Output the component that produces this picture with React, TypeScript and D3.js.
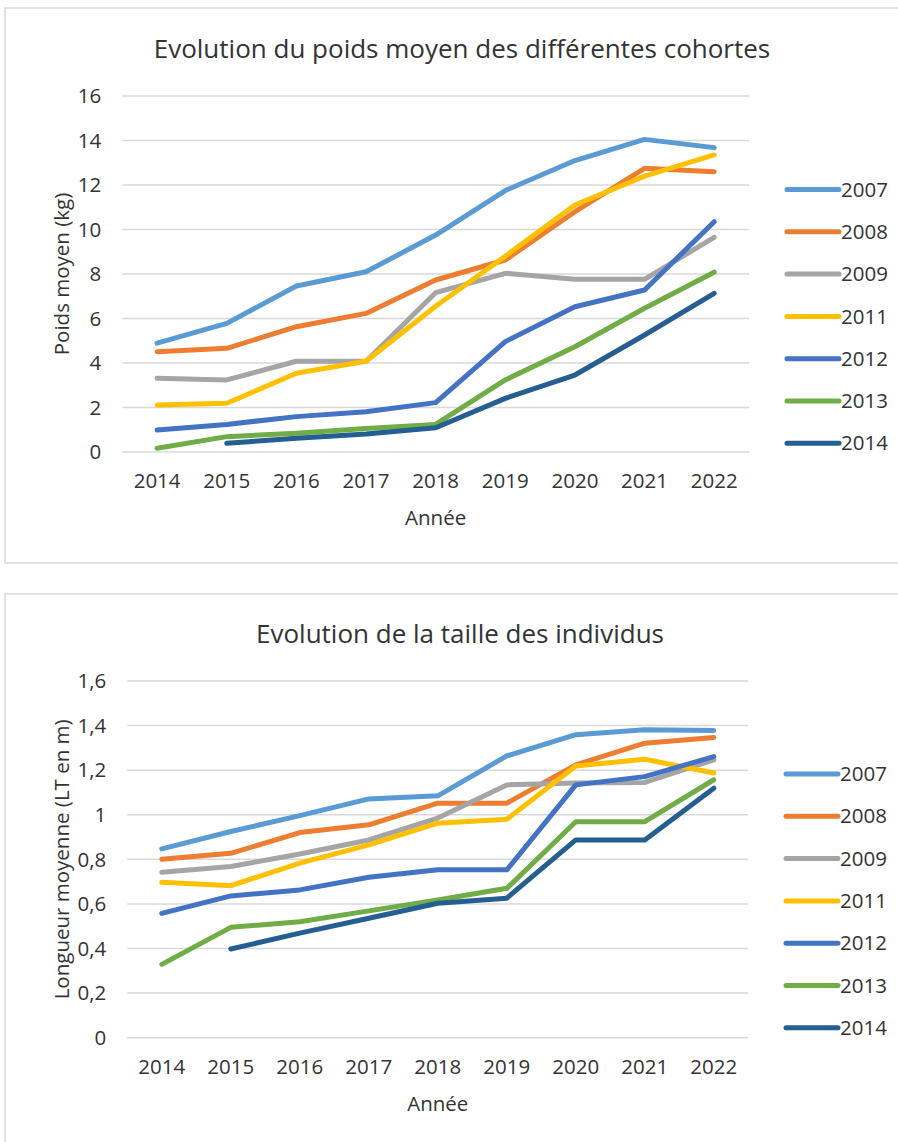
import React from "react";
import * as d3 from "d3";

// Cohort years (legend order) and their colours
const cohorts = ["2007", "2008", "2009", "2011", "2012", "2013", "2014"];
const cohortColors = ["#5B9BD5", "#ED7D31", "#A5A5A5", "#FFC000", "#4472C4", "#70AD47", "#255E91"];

// Survey years along the x axis
const years = ["2014", "2015", "2016", "2017", "2018", "2019", "2020", "2021", "2022"];

// Mean weight (kg) per cohort, one value per survey year
const weight2007 = [4.89, 5.78, 7.46, 8.1, 9.75, 11.75, 13.1, 14.05, 13.68];
const weight2008 = [4.51, 4.66, 5.63, 6.23, 7.73, 8.63, 10.8, 12.75, 12.6];
const weight2009 = [3.31, 3.24, 4.08, 4.08, 7.16, 8.03, 7.76, 7.76, 9.65];
const weight2011 = [2.11, 2.19, 3.54, 4.08, 6.55, 8.8, 11.1, 12.4, 13.35];
const weight2012 = [0.99, 1.24, 1.59, 1.81, 2.22, 4.96, 6.53, 7.28, 10.35];
const weight2013 = [0.17, 0.69, 0.84, 1.06, 1.24, 3.24, 4.73, 6.46, 8.08];
const weight2014 = [null, 0.39, 0.62, 0.81, 1.09, 2.41, 3.46, 5.26, 7.13];

// Mean total length (m) per cohort, one value per survey year
const length2007 = [0.847, 0.925, 0.996, 1.071, 1.085, 1.264, 1.359, 1.381, 1.378];
const length2008 = [0.8, 0.827, 0.92, 0.955, 1.052, 1.052, 1.224, 1.321, 1.347];
const length2009 = [0.742, 0.768, 0.824, 0.887, 0.985, 1.134, 1.142, 1.145, 1.246];
const length2011 = [0.697, 0.682, 0.783, 0.865, 0.962, 0.98, 1.219, 1.249, 1.187];
const length2012 = [0.558, 0.636, 0.663, 0.72, 0.753, 0.753, 1.134, 1.171, 1.261];
const length2013 = [0.329, 0.495, 0.52, 0.569, 0.618, 0.67, 0.969, 0.969, 1.157];
const length2014 = [null, 0.398, 0.469, 0.536, 0.603, 0.626, 0.887, 0.887, 1.119];

// Axis ticks
const weightTicks = [0, 2, 4, 6, 8, 10, 12, 14, 16];
const lengthTicks = [0, 0.2, 0.4, 0.6, 0.8, 1, 1.2, 1.4, 1.6];

const weightSeries = [weight2007, weight2008, weight2009, weight2011, weight2012, weight2013, weight2014];
const lengthSeries = [length2007, length2008, length2009, length2011, length2012, length2013, length2014];

const FONT = "'Open Sans', 'Liberation Sans', sans-serif";
const TEXT = "#333333";
const GRID = "#d9d9d9";
const LABEL_SIZE = 20.5;

type Box = {
  top: number;
  bottom: number;
  plotLeft: number;
  plotRight: number;
  plotTop: number;
  plotBottom: number;
  titleY: number;
  titleX: number;
  yTitleX: number;
  legendX: number;
  legendY: number;
};

function LineChart(props: {
  box: Box;
  title: string;
  yTitle: string;
  ticks: number[];
  domainMax: number;
  series: (number | null)[][];
  tickFormat: (v: number) => string;
}) {
  const { box, title, yTitle, ticks, domainMax, series, tickFormat } = props;
  const x = d3.scaleBand<string>().domain(years).range([box.plotLeft, box.plotRight]).padding(0);
  const y = d3.scaleLinear().domain([0, domainMax]).range([box.plotBottom, box.plotTop]);
  const cx = (yr: string) => (x(yr) as number) + x.bandwidth() / 2;

  const line = d3
    .line<number | null>()
    .defined((d) => d !== null)
    .x((_, i) => cx(years[i]))
    .y((d) => y(d as number));

  const plotMidX = (box.plotLeft + box.plotRight) / 2;
  const plotMidY = (box.plotTop + box.plotBottom) / 2;

  return (
    <g>
      <rect
        x={5}
        y={box.top}
        width={960}
        height={box.bottom - box.top}
        fill="#ffffff"
        stroke={GRID}
        strokeWidth={1.5}
      />
      <text x={box.titleX} y={box.titleY} textAnchor="middle" fontFamily={FONT} fontSize={26} fill={TEXT}>
        {title}
      </text>
      {ticks.map((t) => (
        <g key={t}>
          <line x1={box.plotLeft} x2={box.plotRight} y1={y(t)} y2={y(t)} stroke={GRID} strokeWidth={1.5} />
          <text
            x={box.plotLeft - 21}
            y={y(t)}
            dy="0.35em"
            textAnchor="end"
            fontFamily={FONT}
            fontSize={LABEL_SIZE}
            fill={TEXT}
          >
            {tickFormat(t)}
          </text>
        </g>
      ))}
      {years.map((yr) => (
        <text
          key={yr}
          x={cx(yr)}
          y={box.plotBottom + 36}
          textAnchor="middle"
          fontFamily={FONT}
          fontSize={LABEL_SIZE}
          fill={TEXT}
        >
          {yr}
        </text>
      ))}
      <text
        x={plotMidX}
        y={box.plotBottom + 73}
        textAnchor="middle"
        fontFamily={FONT}
        fontSize={LABEL_SIZE}
        fill={TEXT}
      >
        Année
      </text>
      <text
        transform={`translate(${box.yTitleX},${plotMidY}) rotate(-90)`}
        textAnchor="middle"
        fontFamily={FONT}
        fontSize={LABEL_SIZE}
        fill={TEXT}
      >
        {yTitle}
      </text>
      {series.map((s, i) => (
        <path
          key={cohorts[i]}
          d={line(s) || ""}
          fill="none"
          stroke={cohortColors[i]}
          strokeWidth={5}
          strokeLinejoin="round"
          strokeLinecap="round"
        />
      ))}
      {cohorts.map((c, i) => {
        const ly = box.legendY + i * 42.3;
        return (
          <g key={c}>
            <line
              x1={box.legendX}
              x2={box.legendX + 52}
              y1={ly}
              y2={ly}
              stroke={cohortColors[i]}
              strokeWidth={5}
              strokeLinecap="round"
            />
            <text x={box.legendX + 54} y={ly} dy="0.35em" fontFamily={FONT} fontSize={LABEL_SIZE} fill={TEXT}>
              {c}
            </text>
          </g>
        );
      })}
    </g>
  );
}

const commaFormat = (v: number) => String(Math.round(v * 10) / 10).replace(".", ",");

export default function App() {
  const topBox: Box = {
    top: 8,
    bottom: 563,
    plotLeft: 122.3,
    plotRight: 749,
    plotTop: 96,
    plotBottom: 452,
    titleX: 462,
    titleY: 58,
    yTitleX: 69,
    legendX: 787,
    legendY: 189.5,
  };
  const bottomBox: Box = {
    top: 594,
    bottom: 1160,
    plotLeft: 127.3,
    plotRight: 748.3,
    plotTop: 681,
    plotBottom: 1037.7,
    titleX: 460,
    titleY: 643,
    yTitleX: 69,
    legendX: 786,
    legendY: 774,
  };
  return (
    <svg
      width={898}
      height={1142}
      viewBox="0 0 898 1142"
      style={{ position: "absolute", left: 0, top: 0, display: "block", background: "#ffffff" }}
    >
      <rect x={0} y={0} width={898} height={1142} fill="#ffffff" />
      <LineChart
        box={topBox}
        title="Evolution du poids moyen des différentes cohortes"
        yTitle="Poids moyen (kg)"
        ticks={weightTicks}
        domainMax={16}
        series={weightSeries}
        tickFormat={(v) => String(v)}
      />
      <LineChart
        box={bottomBox}
        title="Evolution de la taille des individus"
        yTitle="Longueur moyenne (LT en m)"
        ticks={lengthTicks}
        domainMax={1.6}
        series={lengthSeries}
        tickFormat={commaFormat}
      />
    </svg>
  );
}
